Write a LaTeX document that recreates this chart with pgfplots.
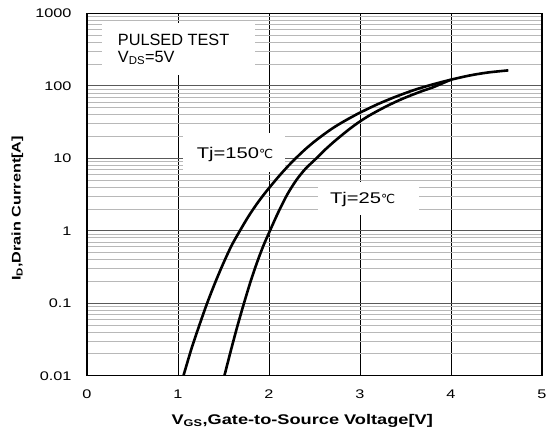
\documentclass[border=0pt]{standalone}
\usepackage{fontspec}
\setmainfont{Liberation Sans}
\newfontfamily\wide{Liberation Sans}[FakeStretch=1.3]
\newfontfamily\dejavu{DejaVu Sans}
\usepackage{pgfplots}
\pgfplotsset{compat=1.18}
\begin{document}
\begin{tikzpicture}
\begin{axis}[
  at={(0,0)}, anchor=south west,
  scale only axis, width=455pt, height=362.2pt,
  xmin=0, xmax=5, ymin=0.01, ymax=1000, ymode=log,
  xtick={0,1,2,3,4,5}, xticklabels={0,1,2,3,4,5},
  ytick={0.01,0.1,1,10,100,1000},
  yticklabels={0.01,0.1,1,10,100,1000},
  minor ytick={0.02,0.03,0.04,0.05,0.06,0.07,0.08,0.09,
               0.2,0.3,0.4,0.5,0.6,0.7,0.8,0.9,
               2,3,4,5,6,7,8,9,
               20,30,40,50,60,70,80,90,
               200,300,400,500,600,700,800,900},
  xmajorgrids, ymajorgrids, yminorgrids,
  major x grid style={black, line width=0.7pt},
  major y grid style={black!65, line width=0.9pt},
  minor y grid style={black!28, line width=0.9pt},
  major tick length=0pt, minor tick length=0pt,
  axis line style={line width=1.1pt},
  ticklabel style={font=\wide\fontsize{12.5}{14}\selectfont},
  xticklabel style={yshift=-11pt},
  yticklabel style={xshift=-12pt},
  xlabel={\textbf{V\textsubscript{GS},Gate-to-Source Voltage[V]}},
  xlabel style={font=\wide\fontsize{14}{16}\selectfont, at={(axis description cs:0.473,-0.124)}, anchor=center},
  ylabel={\textbf{I\textsubscript{D},Drain Current[A]}},
  ylabel style={font=\wide\fontsize{12.5}{14}\selectfont, at={(axis description cs:-0.153,0.462)}, anchor=center},
  clip=true,
]
% label boxes
\fill[white] (rel axis cs:0.032,0.831) rectangle (rel axis cs:0.369,0.974);
\fill[white] (rel axis cs:0.210,0.563) rectangle (rel axis cs:0.435,0.670);
\fill[white] (rel axis cs:0.508,0.444) rectangle (rel axis cs:0.730,0.536);
\node[anchor=base west, inner sep=0pt, font=\fontsize{16.3}{18}\selectfont] at (rel axis cs:0.0675,0.913) {PULSED TEST};
\node[anchor=base west, inner sep=0pt, font=\fontsize{16.3}{18}\selectfont] at (rel axis cs:0.0675,0.865) {V\textsubscript{DS}=5V};
\node[anchor=base west, inner sep=0pt, font=\wide\fontsize{15.5}{18}\selectfont] at (rel axis cs:0.241,0.600) {Tj=150{\dejavu\fontsize{12.5}{16}\selectfont ℃}};
\node[anchor=base west, inner sep=0pt, font=\wide\fontsize{15.5}{18}\selectfont] at (rel axis cs:0.534,0.475) {Tj=25{\dejavu\fontsize{12.5}{16}\selectfont ℃}};
% Tj = 150 C
\addplot[black, line width=2.6pt, smooth] coordinates {
  (1.06,0.01) (1.15,0.024) (1.24,0.052) (1.32,0.1) (1.41,0.195) (1.5,0.36)
  (1.59,0.63) (1.68,1.0) (1.77,1.55) (1.86,2.29) (1.94,3.13) (2.0,3.89)
  (2.1,5.5) (2.2,7.6) (2.3,10.2) (2.4,13.4) (2.5,17.1) (2.6,21.3)
  (2.7,26.1) (2.8,31.2) (2.9,36.7) (3.0,42.8) (3.2,56.4) (3.4,71.6)
  (3.6,88.3) (3.8,105) (4.0,122) (4.2,139) (4.4,153) (4.63,164)
};
% Tj = 25 C
\addplot[black, line width=2.6pt, smooth] coordinates {
  (1.51,0.01) (1.58,0.022) (1.65,0.047) (1.725,0.1) (1.8,0.204) (1.87,0.37)
  (1.94,0.63) (2.01,1.0) (2.1,1.78) (2.2,3.16) (2.3,5.0) (2.4,7.16)
  (2.52,10) (2.6,12.6) (2.7,16.4) (2.8,20.9) (2.9,26.3) (3.0,32.4)
  (3.1,38.9) (3.2,45.7) (3.3,53.1) (3.4,61) (3.5,69.2) (3.6,77.6)
  (3.7,86.5) (3.8,95.5) (3.9,108) (4.0,122)
};
\end{axis}
\pgfresetboundingbox
\path[use as bounding box] (-87pt,-60.3pt) rectangle (460pt,362.2pt+13.5pt);
\end{tikzpicture}
\end{document}
